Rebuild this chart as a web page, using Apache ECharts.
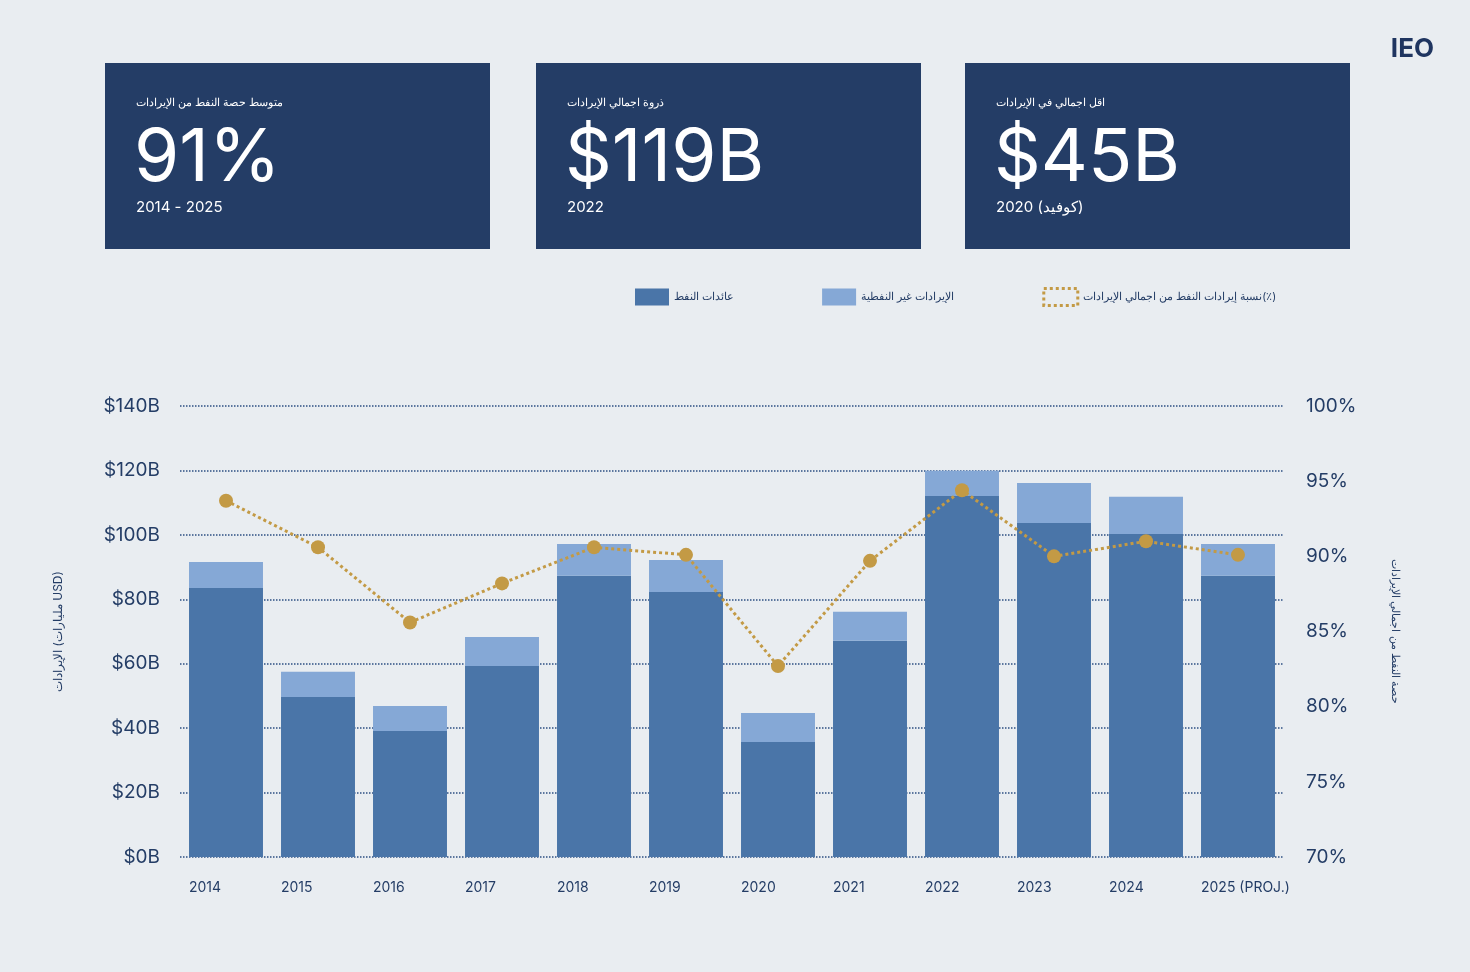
<!DOCTYPE html>
<html>
<head>
    <meta charset="utf-8">
    <title>IEO</title>
    <script src="https://cdn.jsdelivr.net/npm/echarts@6/dist/echarts.min.js"></script>
</head>
<body style="margin:0;background:#e9edf1;">
<div id="chart1" style="width:1470px;height:972px;"></div>
<script>
    // 数据
    var years = ['2014', '2015', '2016', '2017', '2018', '2019', '2020', '2021', '2022', '2023', '2024', '2025 (PROJ.)'];
    var oilRevenue = [83.5, 49.7, 39.1, 59.3, 87.3, 82.3, 35.7, 67.1, 112.1, 103.7, 100.3, 87.3];
    var nonOilRevenue = [8.1, 7.8, 7.8, 9.0, 9.9, 9.9, 9.0, 9.0, 7.8, 12.4, 11.5, 9.9];
    var oilShare = [93.7, 90.6, 85.6, 88.2, 90.6, 90.1, 82.7, 89.7, 94.4, 90.0, 91.0, 90.1];

    var cards = [
        {x: 105, title: 'متوسط حصة النفط من الإيرادات', big: '91%', sub: '2014 - 2025'},
        {x: 536, title: 'ذروة اجمالي الإيرادات', big: '$119B', sub: '2022'},
        {x: 965, title: 'اقل اجمالي في الإيرادات', big: '$45B', sub: '2020 (كوفيد)'}
    ];

    var font = 'Inter, "Noto Sans", sans-serif';
    var gold = '#c39a45';

    var graphics = [{
        type: 'text', right: 36, top: 36,
        style: {text: 'IEO', fontSize: 26, fontWeight: 'bold', fill: '#1f3560', fontFamily: font}
    }];
    cards.forEach(function (c) {
        graphics.push({type: 'rect', shape: {x: c.x, y: 63, width: 385, height: 186}, style: {fill: '#243d66'}});
        graphics.push({type: 'text', x: c.x + 31, y: 97, style: {text: c.title, fill: '#fff', fontSize: 11, fontFamily: font}});
        graphics.push({type: 'text', x: c.x + 29, y: 123, style: {text: c.big, fill: '#fff', fontSize: 73, fontFamily: font}});
        graphics.push({type: 'text', x: c.x + 31, y: 200, style: {text: c.sub, fill: '#fff', fontSize: 15, fontFamily: font}});
    });

    var myChart1 = echarts.init(document.getElementById('chart1'));
    myChart1.setOption({
        backgroundColor: '#e9edf1',
        textStyle: {fontFamily: font},
        graphic: graphics,
        legend: {
            left: 630, top: 282,
            itemWidth: 34, itemHeight: 17, itemGap: 88,
            textStyle: {fontSize: 11, color: '#243d66'},
            data: [
                {name: 'عائدات النفط', icon: 'rect'},
                {name: 'الإيرادات غير النفطية', icon: 'rect'},
                {name: 'نسبة إيرادات النفط من اجمالي الإيرادات(٪)', icon: 'rect',
                    itemStyle: {color: 'transparent', borderColor: gold, borderWidth: 3, borderType: 'dotted'}}
            ]
        },
        grid: {left: 180, right: 186, top: 406, bottom: 115},
        xAxis: {
            type: 'category',
            data: years,
            axisLine: {show: false},
            axisTick: {show: false},
            axisLabel: {
                interval: 0,
                margin: 24,
                formatter: function (v) { return '{a|' + v + '}'; },
                rich: {a: {width: 74, align: 'left', fontSize: 14, color: '#243d66', fontFamily: font}}
            }
        },
        yAxis: [{
            type: 'value', min: 0, max: 140, interval: 20,
            name: 'الإيرادات (مليارات USD)',
            nameLocation: 'middle', nameGap: 116, nameRotate: 90,
            nameTextStyle: {fontSize: 12, color: '#243d66'},
            axisLabel: {formatter: '${value}B', fontSize: 19, color: '#243d66', margin: 20},
            splitLine: {lineStyle: {color: '#2c4f82', type: 'dotted', width: 1.5}}
        }, {
            type: 'value', min: 70, max: 100, interval: 5,
            name: 'حصة النفط من اجمالي الإيرادات',
            nameLocation: 'middle', nameGap: 106, nameRotate: -90,
            nameTextStyle: {fontSize: 11, color: '#243d66'},
            axisLabel: {formatter: '{value}%', fontSize: 19, color: '#243d66', margin: 22},
            splitLine: {show: false}
        }],
        series: [{
            name: 'عائدات النفط', type: 'bar', stack: 'rev',
            barCategoryGap: '19.6%',
            itemStyle: {color: '#4a75a8'},
            data: oilRevenue
        }, {
            name: 'الإيرادات غير النفطية', type: 'bar', stack: 'rev',
            itemStyle: {color: '#85a8d6'},
            data: nonOilRevenue
        }, {
            name: 'نسبة إيرادات النفط من اجمالي الإيرادات(٪)', type: 'line', yAxisIndex: 1,
            symbol: 'circle', symbolSize: 14,
            lineStyle: {color: gold, width: 3, type: 'dotted'},
            itemStyle: {color: gold},
            data: oilShare
        }]
    });
</script>
</body>
</html>
